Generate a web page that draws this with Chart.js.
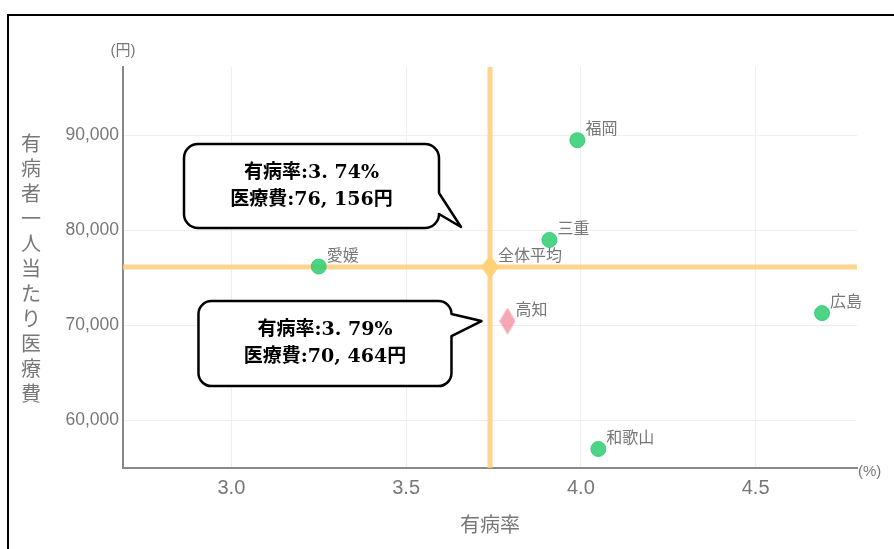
<!DOCTYPE html>
<html>
<head>
<meta charset="utf-8">
<script src="https://cdn.jsdelivr.net/npm/chart.js@4.4.1/dist/chart.umd.min.js"></script>
<style>
  html, body { margin: 0; padding: 0; background: #fff; overflow: hidden; }
  #frame { position: absolute; left: 7px; top: 14px; width: 1000px; height: 1000px; border: 2px solid #000; }
  #grafica { position: absolute; left: 0; top: 0; }
</style>
</head>
<body>
<div id="frame"></div>
<canvas id="grafica" width="894" height="549"></canvas>
<script>
// datos de la grafica
const prefNames = ['福岡', '三重', '愛媛', '広島', '和歌山'];
const rateValues = [3.99, 3.91, 3.25, 4.69, 4.05];
const costValues = [89500, 79000, 76200, 71300, 57000];

const kochiName = '高知';
const kochiRate = 3.79;
const kochiCost = 70464;

const avgName = '全体平均';
const avgRate = 3.74;
const avgCost = 76156;

const xTicks = [3.0, 3.5, 4.0, 4.5];
const yTicks = [60000, 70000, 80000, 90000];
const xRange = [2.69, 4.79];
const yRange = [55000, 97200];

const xTitle = '有病率';
const yTitle = '有病者一人当たり医療費';
const xUnit = '(%)';
const yUnit = '(円)';

const bubbleAvg = ['有病率:3. 74%', '医療費:76, 156円'];
const bubbleKochi = ['有病率:3. 79%', '医療費:70, 464円'];

const grisTexto = '#777';
const fuente = '"Liberation Sans", "Noto Sans CJK JP", sans-serif';
const fuenteCJK = '"Noto Sans CJK JP", sans-serif';

// rombo alargado como imagen para pointStyle
function rombo(w, h, color) {
    const c = document.createElement('canvas');
    c.width = w;
    c.height = h;
    const g = c.getContext('2d');
    g.fillStyle = color;
    g.beginPath();
    g.moveTo(w / 2, 0);
    g.lineTo(w, h / 2);
    g.lineTo(w / 2, h);
    g.lineTo(0, h / 2);
    g.closePath();
    g.fill();
    return c;
}

function globo(ctx, b) {
    const r = b.r;
    ctx.beginPath();
    ctx.moveTo(b.x0 + r, b.y0);
    ctx.lineTo(b.x1 - r, b.y0);
    ctx.arcTo(b.x1, b.y0, b.x1, b.y0 + r, r);
    ctx.lineTo(b.x1, b.tTop);
    ctx.lineTo(b.tipX, b.tipY);
    ctx.lineTo(b.x1, b.tBot);
    ctx.lineTo(b.x1, b.y1 - r);
    ctx.arcTo(b.x1, b.y1, b.x1 - r, b.y1, r);
    ctx.lineTo(b.x0 + r, b.y1);
    ctx.arcTo(b.x0, b.y1, b.x0, b.y1 - r, r);
    ctx.lineTo(b.x0, b.y0 + r);
    ctx.arcTo(b.x0, b.y0, b.x0 + r, b.y0, r);
    ctx.closePath();
    ctx.fillStyle = '#fff';
    ctx.fill();
    ctx.lineWidth = 2.5;
    ctx.lineJoin = 'round';
    ctx.strokeStyle = '#000';
    ctx.stroke();
    ctx.fillStyle = '#000';
    ctx.font = 'bold 19px "DejaVu Serif", "Noto Sans CJK JP", serif';
    ctx.textAlign = 'center';
    ctx.textBaseline = 'middle';
    const cx = (b.x0 + b.x1) / 2;
    b.lines.forEach(function(t, i) {
        ctx.fillText(t, cx, b.y0 + 29 + i * 27);
    });
}

const etiquetas = {
    id: 'etiquetas',
    afterDatasetsDraw(chart) {
        const ctx = chart.ctx;
        ctx.save();
        ctx.font = '16px ' + fuenteCJK;
        ctx.fillStyle = grisTexto;
        ctx.textAlign = 'left';
        ctx.textBaseline = 'middle';
        [0, 1, 2].forEach(function(di) {
            const meta = chart.getDatasetMeta(di);
            const nombres = chart.data.datasets[di].nombres;
            meta.data.forEach(function(p, i) {
                ctx.fillText(nombres[i], p.x + 8, p.y - 12);
            });
        });
        ctx.restore();
    },
    afterDraw(chart) {
        const ctx = chart.ctx;
        const xs = chart.scales.x;
        const ys = chart.scales.y;
        const area = chart.chartArea;
        ctx.save();

        // titulos de ejes
        ctx.fillStyle = grisTexto;
        ctx.textAlign = 'center';
        ctx.textBaseline = 'middle';
        ctx.font = '20px ' + fuenteCJK;
        const chars = Array.from(yTitle);
        chars.forEach(function(ch, i) {
            ctx.fillText(ch, 31, 143 + i * 25);
        });
        ctx.fillText(xTitle, (area.left + area.right) / 2, 524);

        ctx.font = '15px ' + fuente;
        ctx.fillText(yUnit, area.left, 51);
        ctx.textAlign = 'left';
        ctx.fillText(xUnit, area.right + 1, 472);

        // globos
        const ax = xs.getPixelForValue(avgRate);
        const ay = ys.getPixelForValue(avgCost);
        globo(ctx, {
            x0: ax - 306, y0: ay - 123, x1: ax - 51, y1: ay - 39, r: 14,
            tTop: ay - 74, tBot: ay - 53, tipX: ax - 29, tipY: ay - 40,
            lines: bubbleAvg
        });
        const kx = xs.getPixelForValue(kochiRate);
        const ky = ys.getPixelForValue(kochiCost);
        globo(ctx, {
            x0: kx - 309, y0: ky - 20, x1: kx - 56, y1: ky + 65, r: 13,
            tTop: ky - 7, tBot: ky + 15, tipX: kx - 26, tipY: ky,
            lines: bubbleKochi
        });
        ctx.restore();
    }
};

const ctx = document.getElementById('grafica').getContext('2d');

new Chart(ctx, {
    type: 'scatter',
    data: {
        datasets: [{
            nombres: prefNames,
            data: rateValues.map((v, i) => ({ x: v, y: costValues[i] })),
            backgroundColor: 'rgba(46, 204, 113, 0.85)',
            borderColor: 'rgba(46, 204, 113, 0.9)',
            borderWidth: 1,
            pointRadius: 7.5
        }, {
            nombres: [kochiName],
            data: [{ x: kochiRate, y: kochiCost }],
            pointStyle: rombo(16, 27, 'rgba(240, 120, 140, 0.65)'),
            pointRadius: 8
        }, {
            nombres: [avgName],
            data: [{ x: avgRate, y: avgCost }],
            pointStyle: rombo(18, 24, '#FFD27A'),
            pointRadius: 8
        }, {
            type: 'line',
            data: [{ x: xRange[0], y: avgCost }, { x: xRange[1], y: avgCost }],
            borderColor: 'rgba(255, 205, 120, 0.85)',
            borderWidth: 5,
            pointRadius: 0
        }, {
            type: 'line',
            data: [{ x: avgRate, y: yRange[0] }, { x: avgRate, y: yRange[1] }],
            borderColor: 'rgba(255, 205, 120, 0.85)',
            borderWidth: 5,
            pointRadius: 0
        }]
    },
    options: {
        responsive: false,
        animation: false,
        layout: { padding: { top: 67, right: 37, left: 0, bottom: 0 } },
        plugins: {
            legend: { display: false },
            tooltip: { enabled: false }
        },
        scales: {
            x: {
                type: 'linear',
                min: xRange[0],
                max: xRange[1],
                afterBuildTicks: s => { s.ticks = xTicks.map(v => ({ value: v })); },
                afterFit: s => { s.height = 81; },
                grid: { color: '#eee', drawTicks: false },
                border: { color: '#888', width: 2 },
                ticks: {
                    padding: 8,
                    color: grisTexto,
                    font: { family: fuente, size: 20 },
                    callback: v => v.toFixed(1)
                }
            },
            y: {
                type: 'linear',
                min: yRange[0],
                max: yRange[1],
                afterBuildTicks: s => { s.ticks = yTicks.map(v => ({ value: v })); },
                afterFit: s => { s.width = 123; },
                grid: { color: '#eee', drawTicks: false },
                border: { color: '#888', width: 2 },
                ticks: {
                    padding: 4,
                    color: grisTexto,
                    font: { family: fuente, size: 17.5 },
                    callback: v => v.toLocaleString('en-US')
                }
            }
        }
    },
    plugins: [etiquetas]
});
</script>
</body>
</html>
